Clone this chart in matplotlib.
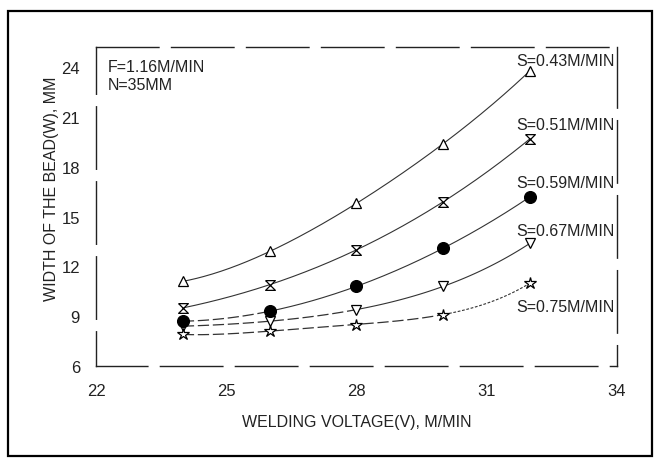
import numpy as np
import matplotlib
matplotlib.use("Agg")
import matplotlib.pyplot as plt
from matplotlib.patches import Rectangle

plt.rcParams['font.family'] = ['Liberation Sans', 'DejaVu Sans']

# welding voltage (V)
voltage = [24, 26, 28, 30, 32]

# bead width (mm) for each welding speed
w_043 = [11.1, 12.9, 15.8, 19.4, 23.8]
w_051 = [9.5, 10.9, 13.0, 15.9, 19.7]
w_059 = [8.7, 9.3, 10.8, 13.1, 16.2]
w_067 = [8.4, 8.7, 9.4, 10.8, 13.4]
w_075 = [7.9, 8.1, 8.5, 9.1, 11.0]

speed_labels = ["S=0.43M/MIN", "S=0.51M/MIN", "S=0.59M/MIN",
                "S=0.67M/MIN", "S=0.75M/MIN"]
label_y = [24.4, 20.55, 17.05, 14.15, 9.6]

xticks = [22, 25, 28, 31, 34]
yticks = [6, 9, 12, 15, 18, 21, 24]

# hourglass marker
hourglass = [(-1, 1), (1, 1), (-1, -1), (1, -1), (-1, 1)]

series = [
    # values, marker, size, face, x where the dashed start ends, tail style
    (w_043, '^', 7, 'white', 24, '-'),
    (w_051, hourglass, 7, 'white', 24, '-'),
    (w_059, 'o', 8.5, 'black', 26, '-'),
    (w_067, 'v', 7, 'white', 28, '-'),
    (w_075, '*', 9, 'white', 30, (0, (2.5, 1.5))),
]

fig = plt.figure(figsize=(6.57, 4.60), dpi=100)
ax = fig.add_axes([96 / 657, 93 / 460, 521 / 657, 319 / 460])

line_col = '#333333'
for i, (vals, mk, ms, fc, brk, tail) in enumerate(series):
    coef = np.polyfit(voltage, vals, 4)
    xs = np.linspace(voltage[0], voltage[-1], 200)
    ys = np.polyval(coef, xs)
    head = xs <= brk
    if brk > voltage[0]:
        ax.plot(xs[head], ys[head], color=line_col, lw=0.9,
                ls=(0, (9, 3)), zorder=2)
    ax.plot(xs[xs >= brk], ys[xs >= brk], color=line_col, lw=0.8,
            ls=tail, zorder=2)
    ax.plot(voltage, vals, ls='none', marker=mk, ms=ms, mfc=fc,
            mec='black', mew=0.9, zorder=3 + (i == 2) * 2)
    ax.text(33.95, label_y[i], speed_labels[i], ha='right', va='center',
            fontsize=11.5, color='#222222')

ax.text(22.27, 24.05, "F=1.16M/MIN", ha='left', va='center',
        fontsize=11.5, color='#222222')
ax.text(22.27, 22.95, "N=35MM", ha='left', va='center',
        fontsize=11.5, color='#222222')

ax.set_xlim(22, 34)
ax.set_ylim(6, 25.22)
ax.set_xticks(xticks)
ax.set_yticks(yticks)
ax.tick_params(length=0, labelsize=12, labelcolor='#222222')
ax.tick_params(axis='x', pad=12)
ax.tick_params(axis='y', pad=11.5)

for side, off in [('top', 0), ('bottom', 8), ('left', 20), ('right', 30)]:
    sp = ax.spines[side]
    sp.set_linestyle((off, (45, 9)))
    sp.set_linewidth(1.0)
    sp.set_color('#222222')

ax.set_xlabel("WELDING VOLTAGE(V), M/MIN", fontsize=11.5, va='center',
              color='#222222')
ax.xaxis.set_label_coords(0.5, -0.175)
ax.set_ylabel("WIDTH OF THE BEAD(W), MM", fontsize=11.5, va='center',
              color='#222222')
ax.yaxis.set_label_coords(-0.085, 0.56)

fig.patches.append(Rectangle((8 / 657, 3 / 460), 644 / 657, 445 / 460,
                             transform=fig.transFigure, fill=False,
                             lw=1.6, edgecolor='black'))

fig.savefig("out.png", dpi=100)
